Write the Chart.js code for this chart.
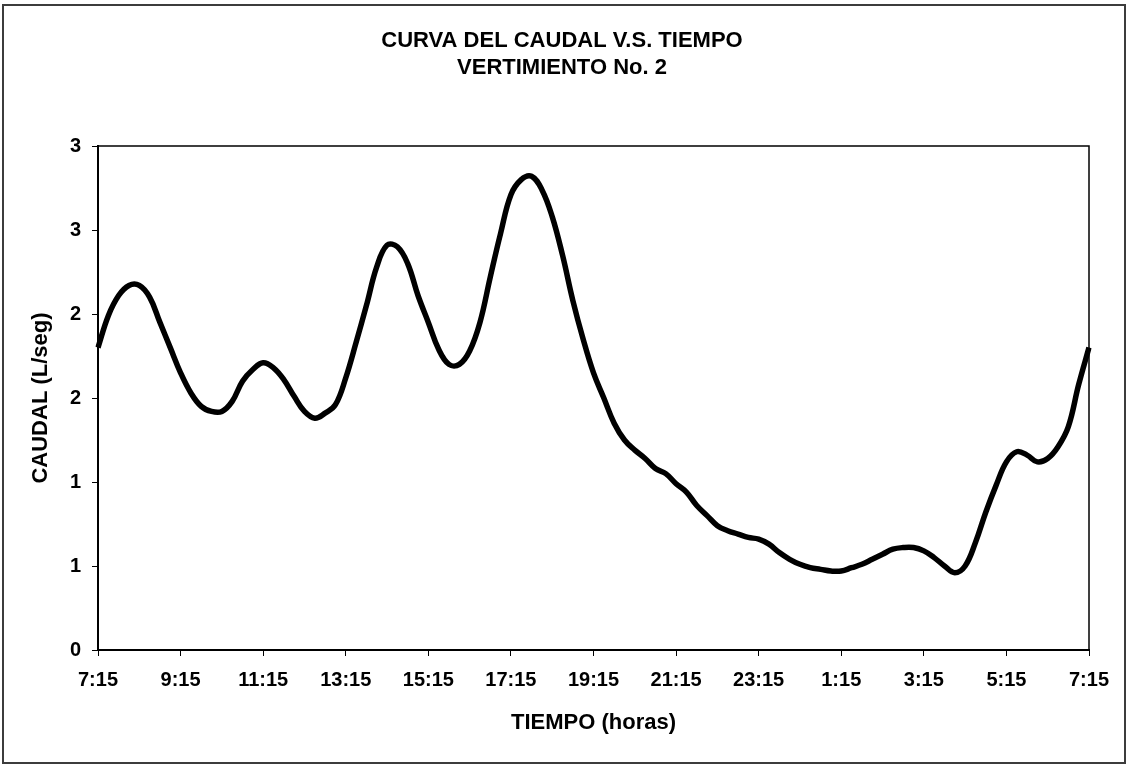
<!DOCTYPE html>
<html>
<head>
<meta charset="utf-8">
<title>Curva del caudal vs tiempo</title>
<script src="https://cdn.jsdelivr.net/npm/chart.js@4/dist/chart.umd.min.js"></script>
<style>
	html, body { margin: 0; padding: 0; background: #ffffff; }
	#grafico { display: block; }
</style>
</head>
<body>
<canvas id="grafico" width="1130" height="769"></canvas>
<script>
//	Hora de cada lectura (cada 15 minutos)
var horas = [
	'7:15', '7:30', '7:45',
	'8:00', '8:15', '8:30', '8:45', '9:00', '9:15', '9:30', '9:45',
	'10:00', '10:15', '10:30', '10:45', '11:00', '11:15', '11:30', '11:45',
	'12:00', '12:15', '12:30', '12:45', '13:00', '13:15', '13:30', '13:45',
	'14:00', '14:15', '14:30', '14:45', '15:00', '15:15', '15:30', '15:45',
	'16:00', '16:15', '16:30', '16:45', '17:00', '17:15', '17:30', '17:45',
	'18:00', '18:15', '18:30', '18:45', '19:00', '19:15', '19:30', '19:45',
	'20:00', '20:15', '20:30', '20:45', '21:00', '21:15', '21:30', '21:45',
	'22:00', '22:15', '22:30', '22:45', '23:00', '23:15', '23:30', '23:45',
	'0:00', '0:15', '0:30', '0:45', '1:00', '1:15', '1:30', '1:45',
	'2:00', '2:15', '2:30', '2:45', '3:00', '3:15', '3:30', '3:45',
	'4:00', '4:15', '4:30', '4:45', '5:00', '5:15', '5:30', '5:45',
	'6:00', '6:15', '6:30', '6:45', '7:00', '7:15'
];

//	Caudal medido (L/seg)
var caudal = [
	1.80, 1.99, 2.11,
	2.17, 2.17, 2.10, 1.95, 1.80, 1.65, 1.53, 1.45,
	1.42, 1.42, 1.48, 1.60, 1.67, 1.71, 1.68, 1.61,
	1.51, 1.42, 1.38, 1.41, 1.46, 1.62, 1.83, 2.05,
	2.28, 2.41, 2.40, 2.30, 2.11, 1.95, 1.79, 1.70,
	1.70, 1.78, 1.95, 2.22, 2.48, 2.71, 2.80, 2.82,
	2.74, 2.58, 2.35, 2.08, 1.85, 1.65, 1.50, 1.35,
	1.25, 1.19, 1.14, 1.08, 1.05, 0.99, 0.94, 0.86,
	0.80, 0.74, 0.71, 0.69, 0.67, 0.66, 0.63, 0.58,
	0.54, 0.51, 0.49, 0.48, 0.47, 0.47, 0.49, 0.51,
	0.54, 0.57, 0.60, 0.61, 0.61, 0.59, 0.55, 0.50,
	0.46, 0.50, 0.64, 0.82, 0.98, 1.12, 1.18, 1.16,
	1.12, 1.14, 1.21, 1.33, 1.58, 1.80
];

//	Etiquetas de los ejes
var etiquetasX = ['7:15', '9:15', '11:15', '13:15', '15:15', '17:15', '19:15',
	'21:15', '23:15', '1:15', '3:15', '5:15', '7:15'];
var etiquetasY = ['0', '1', '1', '2', '2', '3', '3'];

var titulo = ['CURVA DEL CAUDAL V.S. TIEMPO', 'VERTIMIENTO No. 2'];

var fuente = '"Liberation Sans", Arial, sans-serif';

/**
 *	Fondo blanco, marco exterior, recuadro del area de trazado y titulo
 */
var marcoPlugin = {
	id: 'marco',
	beforeDraw: function (chart) {
		var ctx = chart.ctx;
		ctx.save();
		ctx.fillStyle = '#ffffff';
		ctx.fillRect(0, 0, chart.width, chart.height);
		ctx.strokeStyle = '#3c3c3c';
		ctx.lineWidth = 2;
		ctx.strokeRect(3, 5, 1122, 758);
		var a = chart.chartArea;
		ctx.strokeStyle = '#000000';
		ctx.lineWidth = 1.5;
		ctx.strokeRect(a.left, a.top, a.right - a.left, a.bottom - a.top);
		//	Titulo centrado en el grafico
		ctx.fillStyle = '#000000';
		ctx.font = 'bold 22px ' + fuente;
		ctx.textAlign = 'center';
		ctx.textBaseline = 'middle';
		ctx.fillText(titulo[0], 562, 41);
		ctx.fillText(titulo[1], 562, 68);
		ctx.restore();
	}
};

setTimeout(function main() {
	var ctx = document.getElementById('grafico');
	var grafico = new Chart(ctx, {
		type: 'line',
		data: {
			labels: horas,
			datasets: [{
				data: caudal,
				borderColor: '#000000',
				borderWidth: 5.5,
				pointRadius: 0,
				tension: 0.4,
				fill: false
			}]
		},
		plugins: [marcoPlugin],
		options: {
			responsive: false,
			animation: false,
			devicePixelRatio: 1,
			layout: {
				padding: { left: 0, right: 41, top: 146, bottom: 0 }
			},
			plugins: {
				legend: { display: false },
				title: { display: false },
				tooltip: { enabled: false }
			},
			scales: {
				x: {
					offset: false,
					afterFit: function (scale) { scale.height = 119; },
					grid: {
						drawOnChartArea: false,
						drawTicks: true,
						tickLength: 6,
						color: '#000000',
						lineWidth: 1
					},
					border: { display: true, color: '#000000', width: 2 },
					ticks: {
						autoSkip: false,
						maxRotation: 0,
						padding: 12,
						color: '#000000',
						font: { family: fuente, size: 20, weight: 'bold' },
						callback: function (valor, indice) {
							if (indice % 8 !== 0) return null;
							return etiquetasX[indice / 8];
						}
					},
					title: {
						display: true,
						text: 'TIEMPO (horas)',
						color: '#000000',
						font: { family: fuente, size: 22, weight: 'bold' },
						padding: { top: 0, bottom: 33 }
					}
				},
				y: {
					min: 0,
					max: 3,
					afterFit: function (scale) { scale.width = 98; },
					grid: {
						drawOnChartArea: false,
						drawTicks: true,
						tickLength: 6,
						color: '#000000',
						lineWidth: 1
					},
					border: { display: true, color: '#000000', width: 2 },
					ticks: {
						stepSize: 0.5,
						padding: 11,
						color: '#000000',
						font: { family: fuente, size: 20, weight: 'bold' },
						callback: function (valor, indice) {
							return etiquetasY[indice];
						}
					},
					title: {
						display: true,
						text: 'CAUDAL (L/seg)',
						color: '#000000',
						font: { family: fuente, size: 22, weight: 'bold' },
						padding: { top: 28, bottom: 0 }
					}
				}
			}
		}
	});
}, 10);
</script>
</body>
</html>
